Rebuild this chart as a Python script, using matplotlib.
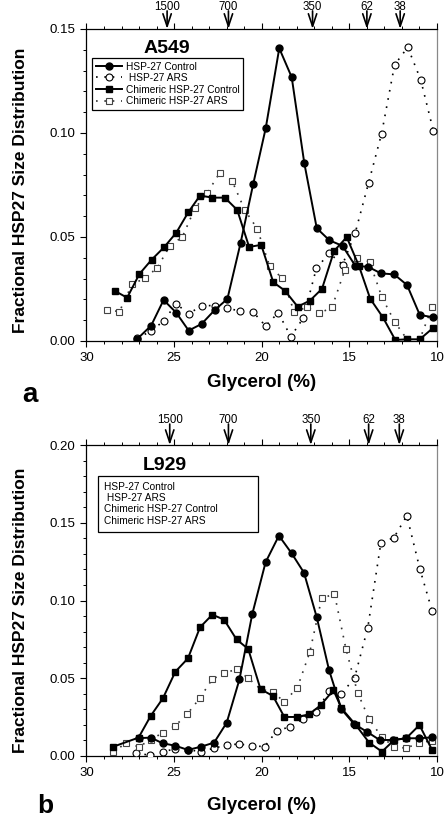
import numpy as np
import matplotlib.pyplot as plt
from matplotlib.lines import Line2D
from matplotlib.ticker import MultipleLocator, FormatStrFormatter

plt.rcParams['font.family'] = ['Liberation Sans', 'DejaVu Sans']

# ---- panel a: A549 (glycerol %, fraction) ----
a_ctrl_x = [27.1, 26.31, 25.6, 24.88, 24.17, 23.43, 22.68, 21.96, 21.21, 20.49, 19.77, 19.0,
            18.29, 17.57, 16.86, 16.14, 15.39, 14.65, 13.94, 13.2, 12.44, 11.71, 10.98, 10.22]
a_ctrl_y = [0.001, 0.0074, 0.0197, 0.0136, 0.005, 0.0082, 0.0149, 0.0202, 0.047, 0.0753, 0.1024, 0.1407,
            0.1268, 0.0854, 0.0542, 0.0484, 0.0457, 0.036, 0.0357, 0.0325, 0.032, 0.0269, 0.0125, 0.0114]

a_ars_x = [27.1, 26.31, 25.6, 24.88, 24.17, 23.43, 22.68, 21.96, 21.23, 20.51, 19.78, 19.06,
           18.34, 17.63, 16.88, 16.14, 15.39, 14.67, 13.9, 13.16, 12.42, 11.67, 10.93, 10.21]
a_ars_y = [0.0013, 0.0048, 0.0096, 0.0179, 0.013, 0.017, 0.017, 0.0157, 0.0144, 0.0141, 0.0072, 0.0136,
           0.0021, 0.011, 0.035, 0.0422, 0.0367, 0.0518, 0.0761, 0.0997, 0.1327, 0.1412, 0.1256, 0.1011]

a_chim_x = [28.37, 27.68, 26.98, 26.29, 25.58, 24.88, 24.19, 23.52, 22.82, 22.11, 21.4, 20.72, 20.03, 19.34,
            18.68, 17.95, 17.25, 16.56, 15.87, 15.15, 14.45, 13.81, 13.09, 12.38, 11.7, 10.98, 10.22]
a_chim_y = [0.024, 0.0208, 0.0322, 0.039, 0.045, 0.052, 0.0619, 0.0699, 0.0689, 0.0689, 0.063, 0.0452, 0.0462, 0.0282,
            0.0242, 0.0165, 0.0194, 0.0251, 0.0433, 0.0499, 0.036, 0.0203, 0.0114, 0.0005, 0.0008, 0.0008, 0.0063]

a_chars_x = [28.84, 28.12, 27.4, 26.67, 25.96, 25.24, 24.53, 23.81, 23.12, 22.4, 21.69, 20.97, 20.26, 19.55,
             18.83, 18.14, 17.44, 16.71, 15.99, 15.26, 14.57, 13.85, 13.14, 12.41, 11.71, 10.98, 10.28]
a_chars_y = [0.015, 0.0141, 0.0273, 0.0301, 0.0352, 0.0458, 0.05, 0.0638, 0.071, 0.0808, 0.0769, 0.063, 0.054, 0.036,
             0.0301, 0.0139, 0.0162, 0.0133, 0.0162, 0.0341, 0.0399, 0.0381, 0.021, 0.0091, 0.0008, 0.0008, 0.0162]

# ---- panel b: L929 ----
b_ctrl_x = [27.03, 26.33, 25.66, 24.93, 24.21, 23.46, 22.72, 22.0, 21.27, 20.54, 19.78, 19.02,
            18.29, 17.59, 16.86, 16.16, 15.45, 14.73, 14.0, 13.27, 12.51, 11.76, 11.0, 10.28]
b_ctrl_y = [0.0115, 0.0118, 0.0082, 0.0066, 0.0039, 0.006, 0.0086, 0.0214, 0.0493, 0.0913, 0.1246, 0.1417,
            0.1303, 0.1179, 0.0892, 0.0553, 0.03, 0.0206, 0.0156, 0.0103, 0.0103, 0.0114, 0.0114, 0.012]

b_ars_x = [27.17, 26.4, 25.66, 24.93, 24.2, 23.46, 22.72, 22.0, 21.29, 20.57, 19.84, 19.13,
           18.37, 17.64, 16.91, 16.16, 15.45, 14.7, 13.95, 13.2, 12.46, 11.72, 10.97, 10.28]
b_ars_y = [0.0017, 0.0006, 0.0028, 0.0045, 0.004, 0.0028, 0.005, 0.0071, 0.0077, 0.0066, 0.006, 0.0163,
           0.0188, 0.0238, 0.0281, 0.0418, 0.0399, 0.0504, 0.0825, 0.1372, 0.1404, 0.1545, 0.12, 0.0934]

b_chim_x = [28.47, 27.03, 26.33, 25.64, 24.93, 24.21, 23.52, 22.82, 22.15, 21.44, 20.77, 20.07, 19.36,
            18.71, 17.99, 17.3, 16.62, 15.91, 15.45, 14.63, 13.87, 13.14, 12.44, 11.76, 11.0, 10.28]
b_chim_y = [0.006, 0.0118, 0.0259, 0.0371, 0.0542, 0.0628, 0.0828, 0.0909, 0.0877, 0.075, 0.0688, 0.043, 0.0386,
            0.0251, 0.0251, 0.0268, 0.0328, 0.0424, 0.0307, 0.0199, 0.0086, 0.0028, 0.0103, 0.0114, 0.0199, 0.0039]

b_chars_x = [28.47, 27.74, 27.03, 26.33, 25.66, 24.93, 24.25, 23.54, 22.83, 22.15, 21.44, 20.77, 20.07, 19.36,
             18.71, 17.97, 17.26, 16.58, 15.85, 15.19, 14.53, 13.87, 13.14, 12.44, 11.76, 11.0, 10.28]
b_chars_y = [0.0028, 0.0082, 0.006, 0.0103, 0.015, 0.0195, 0.027, 0.0371, 0.0493, 0.0532, 0.0558, 0.05, 0.0431, 0.041,
             0.0349, 0.0439, 0.0667, 0.1014, 0.1042, 0.0686, 0.0407, 0.0237, 0.012, 0.006, 0.005, 0.0086, 0.0098]

# size markers (kDa) along the top axis
size_labels = ["1500", "700", "350", "62", "38"]
a_size_pos = [25.4, 21.9, 17.1, 14.0, 12.1]
b_size_pos = [25.25, 21.9, 17.2, 13.9, 12.15]

series_labels = ["HSP-27 Control", " HSP-27 ARS", "Chimeric HSP-27 Control", "Chimeric HSP-27 ARS"]

dots = (0, (1, 4))
styles = [
    dict(color="black", ls="-", lw=1.4, marker="o", ms=5, mfc="black", mec="black", zorder=4),
    dict(color="black", ls=dots, lw=1.2, marker="o", ms=5, mfc="white", mec="black", mew=0.8, zorder=3),
    dict(color="black", ls="-", lw=1.4, marker="s", ms=4.5, mfc="black", mec="black", zorder=4),
    dict(color="#333333", ls=dots, lw=1.2, marker="s", ms=4.5, mfc="white", mec="#444444", mew=0.8, zorder=3),
]


def draw_panel(ax, series, ymax, size_pos, arrow_len):
    for (x, y), st in zip(series, styles):
        ax.plot(x, y, **st)
    ax.set_xlim(30, 10)
    ax.set_ylim(0, ymax)
    ax.xaxis.set_major_locator(MultipleLocator(5))
    ax.xaxis.set_minor_locator(MultipleLocator(1))
    ax.yaxis.set_major_locator(MultipleLocator(0.05))
    ax.yaxis.set_minor_locator(MultipleLocator(0.01))
    ax.yaxis.set_major_formatter(FormatStrFormatter("%.2f"))
    ax.tick_params(which="major", direction="out", length=4, width=0.8, labelsize=9.5, pad=4,
                   top=True, labeltop=False, right=False)
    ax.tick_params(which="minor", direction="out", length=2.5, width=0.7, top=True, right=False)
    for sp in ax.spines.values():
        sp.set_linewidth(0.9)
    ax.spines["right"].set_color("#888888")
    for lab, g in zip(size_labels, size_pos):
        # arrow down to the axis, label sitting on top of it
        ax.annotate("", xy=(g, 1.0), xycoords=("data", "axes fraction"),
                    xytext=(0, arrow_len), textcoords="offset pixels",
                    arrowprops=dict(arrowstyle="->,head_length=0.9,head_width=0.3",
                                    lw=1.2, color="black", shrinkA=0, shrinkB=0))
        ax.annotate(lab, xy=(g, 1.0), xycoords=("data", "axes fraction"),
                    xytext=(0, arrow_len + 1), textcoords="offset pixels",
                    ha="center", va="baseline", fontsize=8.3)
    ax.set_ylabel("Fractional HSP27 Size Distribution", fontsize=12.5, fontweight="bold")
    ax.set_xlabel("Glycerol (%)", fontsize=13.5, fontweight="bold")


fig = plt.figure(figsize=(4.44, 8.22), dpi=100)
ax1 = fig.add_axes([0.1948, 0.5852, 0.7894, 0.3796])
ax2 = fig.add_axes([0.1948, 0.0803, 0.7894, 0.3783])

draw_panel(ax1, [(a_ctrl_x, a_ctrl_y), (a_ars_x, a_ars_y), (a_chim_x, a_chim_y), (a_chars_x, a_chars_y)],
           0.15, a_size_pos, 18)
draw_panel(ax2, [(b_ctrl_x, b_ctrl_y), (b_ars_x, b_ars_y), (b_chim_x, b_chim_y), (b_chars_x, b_chars_y)],
           0.20, b_size_pos, 21)

ax1.yaxis.set_label_coords(-0.167, 0.484)
ax2.yaxis.set_label_coords(-0.167, 0.47)
ax1.xaxis.set_label_coords(0.5, -0.106)
ax2.xaxis.set_label_coords(0.5, -0.132)

ax1.text(0.2297, 0.923, "A549", transform=ax1.transAxes, ha="center", va="baseline",
         fontsize=14, fontweight="bold")
ax2.text(0.224, 0.92, "L929", transform=ax2.transAxes, ha="center", va="baseline",
         fontsize=14, fontweight="bold")

# legend with markers (panel a)
handles = [Line2D([], [], **{k: v for k, v in st.items() if k != "zorder"}) for st in styles]
leg1 = ax1.legend(handles, series_labels, loc="upper left", bbox_to_anchor=(0.0157, 0.907),
                  borderaxespad=0, frameon=True, fancybox=False, edgecolor="black", framealpha=1,
                  fontsize=7.3, handlelength=2.6, handletextpad=0.4, borderpad=0.35, labelspacing=0.15)
leg1.get_frame().set_linewidth(0.9)

# text-only legend (panel b)
blank = [Line2D([], [], ls="none") for _ in series_labels]
leg2 = ax2.legend(blank, series_labels, loc="upper left", bbox_to_anchor=(0.032, 0.73, 0.458, 0.171),
                  mode="expand", borderaxespad=0, frameon=True, fancybox=False, edgecolor="black",
                  framealpha=1, fontsize=7.3, handlelength=0, handletextpad=0, borderpad=0.6,
                  labelspacing=0.12)
leg2.get_frame().set_linewidth(0.9)

fig.text(0.0495, 1 - 402 / 822, "a", fontsize=20, fontweight="bold", ha="left", va="baseline")
fig.text(0.083, 1 - 813 / 822, "b", fontsize=19, fontweight="bold", ha="left", va="baseline")

fig.savefig("out.png", dpi=100)
